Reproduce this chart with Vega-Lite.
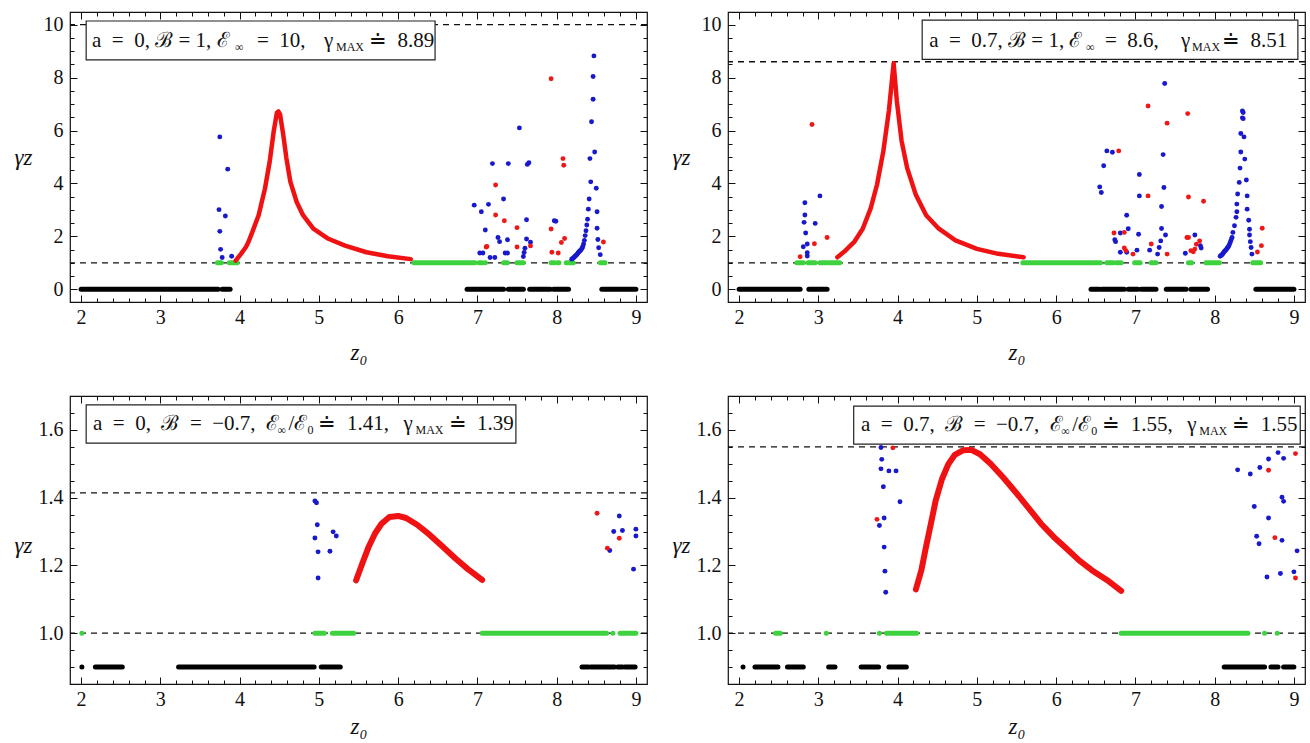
{
"$schema":"https://vega.github.io/schema/vega-lite/v6.json",
"padding":{"left":13,"top":10,"right":0,"bottom":0},
"background":"white",
"config":{"font":"Liberation Serif","view":{"stroke":"#111","strokeWidth":1.2},"axis":{"domain":false,"grid":false,"tickColor":"#111","tickWidth":1,"labelFont":"Liberation Serif","labelFontSize":20,"labelColor":"#111","titleFont":"Liberation Serif","titleFontSize":23,"titleFontWeight":"normal","titleColor":"#111","titleFontStyle":"italic"}},
"datasets":{
"refs":[{"p":"TL","y":1},{"p":"TL","y":10},{"p":"TR","y":1},{"p":"TR","y":8.6},{"p":"BL","y":1},{"p":"BL","y":1.414},{"p":"BR","y":1},{"p":"BR","y":1.55}],
"boxes":[{"p":"TL","x1":2.064,"x2":6.466,"y1":8.67,"y2":10.14},{"p":"TR","x1":4.31,"x2":9.05,"y1":8.69,"y2":10.17},{"p":"BL","x1":2.064,"x2":7.486,"y1":1.561,"y2":1.674},{"p":"BR","x1":3.446,"x2":9.08,"y1":1.558,"y2":1.670}],
"txt":[{"p":"TL","x":2.138,"y":9.38,"t":"a\u2002=\u20020, ℬ = 1, ℰ"},{"p":"TL","x":4.219,"y":9.38,"t":"=\u200210,"},{"p":"TL","x":5.065,"y":9.38,"t":"γ"},{"p":"TL","x":5.632,"y":9.38,"t":"≐\u20028.89"},
{"p":"TR","x":4.398,"y":9.38,"t":"a\u2002=\u20020.7, ℬ = 1, ℰ"},{"p":"TR","x":6.617,"y":9.38,"t":"=\u20028.6,"},{"p":"TR","x":7.576,"y":9.38,"t":"γ"},{"p":"TR","x":8.093,"y":9.38,"t":"≐\u20028.51"},
{"p":"BL","x":2.15,"y":1.617,"t":"a\u2002=\u20020,\u00a0 ℬ\u2002=\u2002−0.7,\u00a0 ℰ"},{"p":"BL","x":4.617,"y":1.617,"t":"/ℰ"},{"p":"BL","x":4.995,"y":1.617,"t":"≐\u20021.41,"},{"p":"BL","x":6.068,"y":1.617,"t":"γ"},{"p":"BL","x":6.636,"y":1.617,"t":"≐\u20021.39"},
{"p":"BR","x":3.538,"y":1.614,"t":"a\u2002=\u20020.7,\u00a0 ℬ\u2002=\u2002−0.7,\u00a0 ℰ"},{"p":"BR","x":6.204,"y":1.614,"t":"/ℰ"},{"p":"BR","x":6.582,"y":1.614,"t":"≐\u20021.55,"},{"p":"BR","x":7.655,"y":1.614,"t":"γ"},{"p":"BR","x":8.223,"y":1.614,"t":"≐\u20021.55"}],
"sub":[{"p":"TL","x":3.942,"y":9.38,"t":"∞"},{"p":"TL","x":5.216,"y":9.38,"t":"MAX"},
{"p":"TR","x":6.377,"y":9.38,"t":"∞"},{"p":"TR","x":7.715,"y":9.38,"t":"MAX"},
{"p":"BL","x":4.478,"y":1.617,"t":"∞"},{"p":"BL","x":4.857,"y":1.617,"t":"0"},{"p":"BL","x":6.219,"y":1.617,"t":"MAX"},
{"p":"BR","x":6.065,"y":1.614,"t":"∞"},{"p":"BR","x":6.444,"y":1.614,"t":"0"},{"p":"BR","x":7.806,"y":1.614,"t":"MAX"}],
"segs":[
{"p":"TL","k":"k","a":2.0,"b":3.73,"y":0},{"p":"TL","k":"k","a":3.78,"b":3.88,"y":0},{"p":"TL","k":"k","a":6.87,"b":7.33,"y":0},{"p":"TL","k":"k","a":7.39,"b":7.58,"y":0},{"p":"TL","k":"k","a":7.66,"b":7.92,"y":0},{"p":"TL","k":"k","a":7.96,"b":8.15,"y":0},{"p":"TL","k":"k","a":8.57,"b":9.0,"y":0},
{"p":"TL","k":"g","a":3.72,"b":3.77,"y":1},{"p":"TL","k":"g","a":3.87,"b":3.97,"y":1},{"p":"TL","k":"g","a":6.2,"b":6.97,"y":1},{"p":"TL","k":"g","a":7.02,"b":7.06,"y":1},{"p":"TL","k":"g","a":7.1,"b":7.1,"y":1},{"p":"TL","k":"g","a":7.33,"b":7.38,"y":1},{"p":"TL","k":"g","a":7.5,"b":7.58,"y":1},{"p":"TL","k":"g","a":7.93,"b":7.97,"y":1},{"p":"TL","k":"g","a":8.01,"b":8.03,"y":1},{"p":"TL","k":"g","a":8.12,"b":8.21,"y":1},{"p":"TL","k":"g","a":8.55,"b":8.61,"y":1},
{"p":"TR","k":"k","a":2.0,"b":2.77,"y":0},{"p":"TR","k":"k","a":2.88,"b":3.11,"y":0},{"p":"TR","k":"k","a":6.44,"b":6.55,"y":0},{"p":"TR","k":"k","a":6.58,"b":6.86,"y":0},{"p":"TR","k":"k","a":6.91,"b":7.03,"y":0},{"p":"TR","k":"k","a":7.07,"b":7.26,"y":0},{"p":"TR","k":"k","a":7.39,"b":7.64,"y":0},{"p":"TR","k":"k","a":7.70,"b":7.91,"y":0},{"p":"TR","k":"k","a":8.52,"b":9.0,"y":0},
{"p":"TR","k":"g","a":2.73,"b":2.81,"y":1},{"p":"TR","k":"g","a":2.87,"b":2.96,"y":1},{"p":"TR","k":"g","a":3.02,"b":3.10,"y":1},{"p":"TR","k":"g","a":3.13,"b":3.27,"y":1},{"p":"TR","k":"g","a":5.58,"b":6.56,"y":1},{"p":"TR","k":"g","a":6.64,"b":6.72,"y":1},{"p":"TR","k":"g","a":6.76,"b":6.82,"y":1},{"p":"TR","k":"g","a":6.99,"b":7.06,"y":1},{"p":"TR","k":"g","a":7.20,"b":7.26,"y":1},{"p":"TR","k":"g","a":7.67,"b":7.71,"y":1},{"p":"TR","k":"g","a":7.89,"b":8.06,"y":1},{"p":"TR","k":"g","a":8.48,"b":8.58,"y":1},
{"p":"BL","k":"k","a":2.01,"b":2.01,"y":0.9},{"p":"BL","k":"k","a":2.18,"b":2.52,"y":0.9},{"p":"BL","k":"k","a":3.23,"b":4.94,"y":0.9},{"p":"BL","k":"k","a":5.03,"b":5.27,"y":0.9},{"p":"BL","k":"k","a":8.32,"b":8.40,"y":0.9},{"p":"BL","k":"k","a":8.43,"b":8.73,"y":0.9},{"p":"BL","k":"k","a":8.77,"b":8.83,"y":0.9},{"p":"BL","k":"k","a":8.86,"b":8.99,"y":0.9},
{"p":"BL","k":"g","a":2.01,"b":2.01,"y":1},{"p":"BL","k":"g","a":4.95,"b":5.07,"y":1},{"p":"BL","k":"g","a":5.17,"b":5.44,"y":1},{"p":"BL","k":"g","a":7.06,"b":8.63,"y":1},{"p":"BL","k":"g","a":8.71,"b":8.71,"y":1},{"p":"BL","k":"g","a":8.80,"b":9.0,"y":1},
{"p":"BR","k":"k","a":2.05,"b":2.05,"y":0.9},{"p":"BR","k":"k","a":2.20,"b":2.49,"y":0.9},{"p":"BR","k":"k","a":2.61,"b":2.81,"y":0.9},{"p":"BR","k":"k","a":3.13,"b":3.21,"y":0.9},{"p":"BR","k":"k","a":3.54,"b":3.76,"y":0.9},{"p":"BR","k":"k","a":3.89,"b":4.11,"y":0.9},{"p":"BR","k":"k","a":8.12,"b":8.63,"y":0.9},{"p":"BR","k":"k","a":8.71,"b":8.80,"y":0.9},{"p":"BR","k":"k","a":8.87,"b":9.0,"y":0.9},
{"p":"BR","k":"g","a":2.46,"b":2.52,"y":1},{"p":"BR","k":"g","a":3.10,"b":3.10,"y":1},{"p":"BR","k":"g","a":3.77,"b":3.77,"y":1},{"p":"BR","k":"g","a":3.86,"b":4.24,"y":1},{"p":"BR","k":"g","a":6.82,"b":8.42,"y":1},{"p":"BR","k":"g","a":8.63,"b":8.63,"y":1},{"p":"BR","k":"g","a":8.79,"b":8.79,"y":1}],
"curve":[
{"p":"TL","z":3.95,"y":1.08},{"p":"TL","z":4.02,"y":1.35},{"p":"TL","z":4.08,"y":1.6},{"p":"TL","z":4.11,"y":1.78},{"p":"TL","z":4.16,"y":2.16},{"p":"TL","z":4.24,"y":2.8},{"p":"TL","z":4.32,"y":3.81},{"p":"TL","z":4.38,"y":4.83},{"p":"TL","z":4.43,"y":5.97},{"p":"TL","z":4.47,"y":6.67},{"p":"TL","z":4.49,"y":6.72},{"p":"TL","z":4.51,"y":6.61},{"p":"TL","z":4.55,"y":5.85},{"p":"TL","z":4.59,"y":4.96},{"p":"TL","z":4.64,"y":4.07},{"p":"TL","z":4.72,"y":3.3},{"p":"TL","z":4.8,"y":2.8},{"p":"TL","z":4.93,"y":2.29},{"p":"TL","z":5.12,"y":1.91},{"p":"TL","z":5.33,"y":1.65},{"p":"TL","z":5.6,"y":1.4},{"p":"TL","z":5.87,"y":1.25},{"p":"TL","z":6.16,"y":1.14},
{"p":"TR","z":3.24,"y":1.21},{"p":"TR","z":3.34,"y":1.46},{"p":"TR","z":3.45,"y":1.78},{"p":"TR","z":3.56,"y":2.29},{"p":"TR","z":3.66,"y":3.06},{"p":"TR","z":3.74,"y":3.95},{"p":"TR","z":3.82,"y":5.22},{"p":"TR","z":3.89,"y":6.75},{"p":"TR","z":3.95,"y":8.54},{"p":"TR","z":3.99,"y":7.13},{"p":"TR","z":4.05,"y":5.61},{"p":"TR","z":4.12,"y":4.59},{"p":"TR","z":4.23,"y":3.57},{"p":"TR","z":4.36,"y":2.8},{"p":"TR","z":4.52,"y":2.29},{"p":"TR","z":4.73,"y":1.85},{"p":"TR","z":5.0,"y":1.53},{"p":"TR","z":5.27,"y":1.34},{"p":"TR","z":5.59,"y":1.21},
{"p":"BL","z":5.47,"y":1.156},{"p":"BL","z":5.55,"y":1.207},{"p":"BL","z":5.63,"y":1.256},{"p":"BL","z":5.71,"y":1.295},{"p":"BL","z":5.79,"y":1.323},{"p":"BL","z":5.89,"y":1.343},{"p":"BL","z":6.0,"y":1.346},{"p":"BL","z":6.1,"y":1.34},{"p":"BL","z":6.24,"y":1.32},{"p":"BL","z":6.4,"y":1.29},{"p":"BL","z":6.56,"y":1.256},{"p":"BL","z":6.72,"y":1.221},{"p":"BL","z":6.88,"y":1.189},{"p":"BL","z":7.06,"y":1.157},
{"p":"BR","z":4.23,"y":1.129},{"p":"BR","z":4.3,"y":1.186},{"p":"BR","z":4.35,"y":1.245},{"p":"BR","z":4.42,"y":1.323},{"p":"BR","z":4.48,"y":1.391},{"p":"BR","z":4.56,"y":1.455},{"p":"BR","z":4.64,"y":1.499},{"p":"BR","z":4.72,"y":1.526},{"p":"BR","z":4.83,"y":1.54},{"p":"BR","z":4.93,"y":1.541},{"p":"BR","z":5.04,"y":1.528},{"p":"BR","z":5.17,"y":1.501},{"p":"BR","z":5.33,"y":1.46},{"p":"BR","z":5.49,"y":1.416},{"p":"BR","z":5.65,"y":1.37},{"p":"BR","z":5.81,"y":1.323},{"p":"BR","z":5.97,"y":1.284},{"p":"BR","z":6.13,"y":1.25},{"p":"BR","z":6.29,"y":1.215},{"p":"BR","z":6.45,"y":1.186},{"p":"BR","z":6.64,"y":1.157},{"p":"BR","z":6.82,"y":1.125}],
"pts":[
{"p":"TL","c":"b","z":3.75,"y":5.76},{"p":"TL","c":"b","z":3.85,"y":4.54},{"p":"TL","c":"b","z":3.74,"y":3.01},{"p":"TL","c":"b","z":3.82,"y":2.77},{"p":"TL","c":"b","z":3.75,"y":2.19},{"p":"TL","c":"b","z":3.76,"y":1.51},{"p":"TL","c":"b","z":3.78,"y":1.2},{"p":"TL","c":"b","z":3.9,"y":1.25},
{"p":"TL","c":"b","z":6.96,"y":3.18},{"p":"TL","c":"b","z":7.05,"y":2.93},{"p":"TL","c":"b","z":7.14,"y":3.21},{"p":"TL","c":"b","z":7.19,"y":4.75},{"p":"TL","c":"b","z":7.39,"y":4.75},{"p":"TL","c":"b","z":7.1,"y":2.24},{"p":"TL","c":"b","z":7.33,"y":3.41},{"p":"TL","c":"b","z":7.26,"y":1.96},{"p":"TL","c":"b","z":7.28,"y":1.8},{"p":"TL","c":"b","z":7.38,"y":1.87},{"p":"TL","c":"b","z":7.03,"y":1.37},{"p":"TL","c":"b","z":7.07,"y":1.37},{"p":"TL","c":"b","z":7.16,"y":1.2},{"p":"TL","c":"b","z":7.22,"y":1.2},{"p":"TL","c":"b","z":7.35,"y":1.37},{"p":"TL","c":"b","z":7.38,"y":1.37},{"p":"TL","c":"b","z":7.53,"y":6.1},{"p":"TL","c":"b","z":7.63,"y":4.72},{"p":"TL","c":"b","z":7.65,"y":4.78},{"p":"TL","c":"b","z":7.62,"y":2.63},{"p":"TL","c":"b","z":7.62,"y":1.9},{"p":"TL","c":"b","z":7.67,"y":1.78},{"p":"TL","c":"b","z":7.6,"y":1.55},{"p":"TL","c":"b","z":7.59,"y":1.39},{"p":"TL","c":"b","z":7.58,"y":1.24},{"p":"TL","c":"b","z":7.97,"y":2.59},{"p":"TL","c":"b","z":7.99,"y":2.57},
{"p":"TL","c":"b","z":8.19,"y":1.14},{"p":"TL","c":"b","z":8.2,"y":1.16},{"p":"TL","c":"b","z":8.21,"y":1.18},{"p":"TL","c":"b","z":8.22,"y":1.21},{"p":"TL","c":"b","z":8.23,"y":1.24},{"p":"TL","c":"b","z":8.24,"y":1.27},{"p":"TL","c":"b","z":8.25,"y":1.3},{"p":"TL","c":"b","z":8.26,"y":1.33},{"p":"TL","c":"b","z":8.27,"y":1.37},{"p":"TL","c":"b","z":8.28,"y":1.41},{"p":"TL","c":"b","z":8.29,"y":1.44},{"p":"TL","c":"b","z":8.3,"y":1.47},{"p":"TL","c":"b","z":8.31,"y":1.5},{"p":"TL","c":"b","z":8.32,"y":1.55},{"p":"TL","c":"b","z":8.33,"y":1.62},{"p":"TL","c":"b","z":8.34,"y":1.71},{"p":"TL","c":"b","z":8.35,"y":1.85},{"p":"TL","c":"b","z":8.36,"y":2.03},{"p":"TL","c":"b","z":8.37,"y":2.21},{"p":"TL","c":"b","z":8.38,"y":2.43},{"p":"TL","c":"b","z":8.39,"y":2.65},{"p":"TL","c":"b","z":8.4,"y":3.03},{"p":"TL","c":"b","z":8.41,"y":3.41},{"p":"TL","c":"b","z":8.43,"y":4.06},{"p":"TL","c":"b","z":8.42,"y":4.94},{"p":"TL","c":"b","z":8.44,"y":6.33},{"p":"TL","c":"b","z":8.46,"y":7.18},{"p":"TL","c":"b","z":8.46,"y":8.04},{"p":"TL","c":"b","z":8.47,"y":8.82},{"p":"TL","c":"b","z":8.48,"y":5.19},{"p":"TL","c":"b","z":8.5,"y":3.82},{"p":"TL","c":"b","z":8.51,"y":2.93},{"p":"TL","c":"b","z":8.51,"y":2.31},{"p":"TL","c":"b","z":8.52,"y":1.88},{"p":"TL","c":"b","z":8.53,"y":1.57},{"p":"TL","c":"b","z":8.55,"y":1.31},
{"p":"TL","c":"r","z":7.23,"y":3.94},{"p":"TL","c":"r","z":7.23,"y":2.81},{"p":"TL","c":"r","z":7.34,"y":2.59},{"p":"TL","c":"r","z":7.5,"y":2.33},{"p":"TL","c":"r","z":7.5,"y":1.6},{"p":"TL","c":"r","z":7.11,"y":1.6},{"p":"TL","c":"r","z":7.12,"y":1.62},{"p":"TL","c":"r","z":7.67,"y":1.64},{"p":"TL","c":"r","z":7.93,"y":7.96},{"p":"TL","c":"r","z":7.93,"y":2.28},{"p":"TL","c":"r","z":7.94,"y":1.4},{"p":"TL","c":"r","z":8.02,"y":1.37},{"p":"TL","c":"r","z":8.08,"y":4.94},{"p":"TL","c":"r","z":8.09,"y":4.69},{"p":"TL","c":"r","z":8.06,"y":1.77},{"p":"TL","c":"r","z":8.1,"y":1.92},{"p":"TL","c":"r","z":8.59,"y":1.79},
{"p":"TR","c":"b","z":2.83,"y":3.27},{"p":"TR","c":"b","z":3.02,"y":3.53},{"p":"TR","c":"b","z":2.83,"y":2.81},{"p":"TR","c":"b","z":2.82,"y":2.53},{"p":"TR","c":"b","z":2.96,"y":2.49},{"p":"TR","c":"b","z":2.84,"y":2.13},{"p":"TR","c":"b","z":2.81,"y":1.61},{"p":"TR","c":"b","z":2.86,"y":1.71},{"p":"TR","c":"b","z":2.86,"y":1.38},{"p":"TR","c":"b","z":2.86,"y":1.26},
{"p":"TR","c":"r","z":2.92,"y":6.23},{"p":"TR","c":"r","z":2.95,"y":1.72},{"p":"TR","c":"r","z":3.11,"y":1.96},{"p":"TR","c":"r","z":2.77,"y":1.23},
{"p":"TR","c":"b","z":6.55,"y":3.87},{"p":"TR","c":"b","z":6.57,"y":3.66},{"p":"TR","c":"b","z":6.6,"y":4.67},{"p":"TR","c":"b","z":6.64,"y":5.23},{"p":"TR","c":"b","z":6.71,"y":5.18},{"p":"TR","c":"b","z":6.74,"y":1.87},{"p":"TR","c":"b","z":6.75,"y":1.8},{"p":"TR","c":"b","z":6.81,"y":1.4},{"p":"TR","c":"b","z":6.81,"y":2.13},{"p":"TR","c":"b","z":6.89,"y":2.8},{"p":"TR","c":"b","z":6.91,"y":2.29},{"p":"TR","c":"b","z":6.89,"y":1.4},{"p":"TR","c":"b","z":7.04,"y":2.08},{"p":"TR","c":"b","z":7.02,"y":1.48},{"p":"TR","c":"b","z":7.05,"y":4.34},{"p":"TR","c":"b","z":7.05,"y":3.53},{"p":"TR","c":"b","z":7.18,"y":1.48},{"p":"TR","c":"b","z":7.28,"y":1.33},{"p":"TR","c":"b","z":7.3,"y":1.58},{"p":"TR","c":"b","z":7.32,"y":1.83},{"p":"TR","c":"b","z":7.33,"y":2.3},{"p":"TR","c":"b","z":7.33,"y":3.13},{"p":"TR","c":"b","z":7.36,"y":3.85},{"p":"TR","c":"b","z":7.35,"y":5.09},{"p":"TR","c":"b","z":7.37,"y":7.78},{"p":"TR","c":"b","z":7.38,"y":2.05},{"p":"TR","c":"b","z":7.63,"y":1.36},{"p":"TR","c":"b","z":7.75,"y":2.05},{"p":"TR","c":"b","z":7.82,"y":1.65},{"p":"TR","c":"b","z":7.83,"y":1.56},
{"p":"TR","c":"b","z":8.07,"y":1.25},{"p":"TR","c":"b","z":8.08,"y":1.28},{"p":"TR","c":"b","z":8.09,"y":1.3},{"p":"TR","c":"b","z":8.1,"y":1.33},{"p":"TR","c":"b","z":8.11,"y":1.37},{"p":"TR","c":"b","z":8.12,"y":1.42},{"p":"TR","c":"b","z":8.13,"y":1.45},{"p":"TR","c":"b","z":8.14,"y":1.48},{"p":"TR","c":"b","z":8.15,"y":1.52},{"p":"TR","c":"b","z":8.16,"y":1.56},{"p":"TR","c":"b","z":8.17,"y":1.6},{"p":"TR","c":"b","z":8.18,"y":1.65},{"p":"TR","c":"b","z":8.19,"y":1.72},{"p":"TR","c":"b","z":8.2,"y":1.8},{"p":"TR","c":"b","z":8.21,"y":1.88},{"p":"TR","c":"b","z":8.22,"y":1.96},{"p":"TR","c":"b","z":8.23,"y":2.15},{"p":"TR","c":"b","z":8.25,"y":2.4},{"p":"TR","c":"b","z":8.27,"y":2.72},{"p":"TR","c":"b","z":8.28,"y":2.93},{"p":"TR","c":"b","z":8.28,"y":3.22},{"p":"TR","c":"b","z":8.29,"y":3.6},{"p":"TR","c":"b","z":8.31,"y":4.04},{"p":"TR","c":"b","z":8.32,"y":4.58},{"p":"TR","c":"b","z":8.33,"y":5.19},{"p":"TR","c":"b","z":8.33,"y":5.89},{"p":"TR","c":"b","z":8.35,"y":6.48},{"p":"TR","c":"b","z":8.35,"y":6.74},{"p":"TR","c":"b","z":8.36,"y":6.68},{"p":"TR","c":"b","z":8.36,"y":6.45},{"p":"TR","c":"b","z":8.37,"y":5.76},{"p":"TR","c":"b","z":8.38,"y":4.92},{"p":"TR","c":"b","z":8.4,"y":4.13},{"p":"TR","c":"b","z":8.41,"y":3.53},{"p":"TR","c":"b","z":8.41,"y":3.03},{"p":"TR","c":"b","z":8.43,"y":2.61},{"p":"TR","c":"b","z":8.44,"y":2.27},{"p":"TR","c":"b","z":8.44,"y":2.05},{"p":"TR","c":"b","z":8.45,"y":1.8},{"p":"TR","c":"b","z":8.46,"y":1.58},{"p":"TR","c":"b","z":8.47,"y":1.33},
{"p":"TR","c":"r","z":6.79,"y":5.23},{"p":"TR","c":"r","z":6.73,"y":2.13},{"p":"TR","c":"r","z":6.86,"y":2.15},{"p":"TR","c":"r","z":6.86,"y":1.56},{"p":"TR","c":"r","z":6.88,"y":1.46},{"p":"TR","c":"r","z":6.97,"y":1.33},{"p":"TR","c":"r","z":7.16,"y":6.93},{"p":"TR","c":"r","z":7.16,"y":3.53},{"p":"TR","c":"r","z":7.2,"y":1.71},{"p":"TR","c":"r","z":7.4,"y":6.28},{"p":"TR","c":"r","z":7.4,"y":1.33},{"p":"TR","c":"r","z":7.66,"y":6.64},{"p":"TR","c":"r","z":7.67,"y":3.49},{"p":"TR","c":"r","z":7.65,"y":1.96},{"p":"TR","c":"r","z":7.67,"y":1.96},{"p":"TR","c":"r","z":7.7,"y":1.46},{"p":"TR","c":"r","z":7.73,"y":1.42},{"p":"TR","c":"r","z":7.75,"y":1.52},{"p":"TR","c":"r","z":7.77,"y":1.7},{"p":"TR","c":"r","z":7.81,"y":1.83},{"p":"TR","c":"r","z":7.86,"y":3.33},{"p":"TR","c":"r","z":8.54,"y":1.41},{"p":"TR","c":"r","z":8.59,"y":1.65},{"p":"TR","c":"r","z":8.6,"y":2.31},
{"p":"BL","c":"b","z":4.95,"y":1.39},{"p":"BL","c":"b","z":4.97,"y":1.385},{"p":"BL","c":"b","z":4.98,"y":1.32},{"p":"BL","c":"b","z":4.95,"y":1.281},{"p":"BL","c":"b","z":5.18,"y":1.299},{"p":"BL","c":"b","z":5.22,"y":1.287},{"p":"BL","c":"b","z":4.99,"y":1.24},{"p":"BL","c":"b","z":5.14,"y":1.242},{"p":"BL","c":"b","z":4.99,"y":1.163},
{"p":"BL","c":"b","z":8.79,"y":1.346},{"p":"BL","c":"b","z":8.72,"y":1.3},{"p":"BL","c":"b","z":8.83,"y":1.303},{"p":"BL","c":"b","z":9.0,"y":1.307},{"p":"BL","c":"b","z":9.0,"y":1.287},{"p":"BL","c":"b","z":8.97,"y":1.189},{"p":"BL","c":"b","z":8.67,"y":1.244},
{"p":"BL","c":"r","z":8.51,"y":1.354},{"p":"BL","c":"r","z":8.79,"y":1.28},{"p":"BL","c":"r","z":8.64,"y":1.251},
{"p":"BR","c":"b","z":3.79,"y":1.548},{"p":"BR","c":"b","z":3.8,"y":1.513},{"p":"BR","c":"b","z":3.79,"y":1.485},{"p":"BR","c":"b","z":3.89,"y":1.479},{"p":"BR","c":"b","z":3.98,"y":1.479},{"p":"BR","c":"b","z":3.82,"y":1.432},{"p":"BR","c":"b","z":4.03,"y":1.388},{"p":"BR","c":"b","z":3.83,"y":1.34},{"p":"BR","c":"b","z":3.77,"y":1.318},{"p":"BR","c":"b","z":3.83,"y":1.254},{"p":"BR","c":"b","z":3.84,"y":1.183},{"p":"BR","c":"b","z":3.85,"y":1.121},
{"p":"BR","c":"r","z":3.94,"y":1.547},{"p":"BR","c":"r","z":3.74,"y":1.336},
{"p":"BR","c":"b","z":8.29,"y":1.482},{"p":"BR","c":"b","z":8.45,"y":1.47},{"p":"BR","c":"b","z":8.57,"y":1.489},{"p":"BR","c":"b","z":8.68,"y":1.514},{"p":"BR","c":"b","z":8.8,"y":1.533},{"p":"BR","c":"b","z":8.87,"y":1.516},{"p":"BR","c":"b","z":8.5,"y":1.374},{"p":"BR","c":"b","z":8.68,"y":1.34},{"p":"BR","c":"b","z":8.85,"y":1.401},{"p":"BR","c":"b","z":8.87,"y":1.389},{"p":"BR","c":"b","z":8.53,"y":1.286},{"p":"BR","c":"b","z":8.56,"y":1.264},{"p":"BR","c":"b","z":8.85,"y":1.274},{"p":"BR","c":"b","z":8.66,"y":1.166},{"p":"BR","c":"b","z":8.83,"y":1.176},{"p":"BR","c":"b","z":9.0,"y":1.181},{"p":"BR","c":"b","z":9.04,"y":1.243},
{"p":"BR","c":"r","z":8.68,"y":1.481},{"p":"BR","c":"r","z":8.76,"y":1.282},{"p":"BR","c":"r","z":9.02,"y":1.53},{"p":"BR","c":"r","z":9.02,"y":1.163}]
},
"columns":2,
"spacing":{"row":94,"column":81},
"bounds":"flush",
"concat":[
{"width":577,"height":290,
"layer":[
{"data":{"name":"refs"},"transform":[{"filter":"datum.p==='TL'"}],"mark":{"type":"rule","strokeDash":[6,5],"color":"#111","strokeWidth":1.3},"encoding":{"y":{"field":"y","type":"quantitative","scale":{"domain":[-0.48,10.48],"nice":false,"zero":false},"axis":null}}},
{"data":{"name":"segs"},"transform":[{"filter":"datum.p==='TL'"}],"mark":{"type":"rule","strokeWidth":5,"strokeCap":"round"},"encoding":{"x":{"field":"a","type":"quantitative","scale":{"domain":[1.86,9.14],"nice":false,"zero":false},"axis":{"orient":"bottom","values":[2,3,4,5,6,7,8,9],"format":"d","tickSize":-7,"labelPadding":12,"labelFont":"Liberation Serif","title":"z₀","titleFont":"Liberation Serif","titleY":50,"titleBaseline":"middle"}},"x2":{"field":"b"},"y":{"field":"y","type":"quantitative","axis":{"orient":"left","values":[0,2,4,6,8,10],"format":"d","tickSize":-7,"labelPadding":14,"labelFont":"Liberation Serif","title":"γz","titleFont":"Liberation Serif","titleAngle":0,"titleX":-47,"titleY":145,"titleAlign":"center","titleBaseline":"middle"}},"color":{"field":"k","type":"nominal","scale":{"domain":["k","g"],"range":["#000000","#3ed23e"]},"legend":null}}},
{"data":{"name":"curve"},"transform":[{"filter":"datum.p==='TL'"}],"mark":{"type":"line","color":"#f01212","strokeWidth":4.5,"strokeCap":"round","strokeJoin":"round"},"encoding":{"x":{"field":"z","type":"quantitative","axis":{"orient":"bottom","values":[2.2,2.4,2.6,2.8,3.2,3.4,3.6,3.8,4.2,4.4,4.6,4.8,5.2,5.4,5.6,5.8,6.2,6.4,6.6,6.8,7.2,7.4,7.6,7.8,8.2,8.4,8.6,8.8],"labels":false,"tickSize":-4,"title":null}},"y":{"field":"y","type":"quantitative","axis":{"orient":"left","values":[0.5,1,1.5,2.5,3,3.5,4.5,5,5.5,6.5,7,7.5,8.5,9,9.5],"labels":false,"tickSize":-4,"title":null}}}},
{"data":{"name":"pts"},"transform":[{"filter":"datum.p==='TL'"}],"mark":{"type":"circle","size":24,"opacity":1},"encoding":{"x":{"field":"z","type":"quantitative","axis":{"orient":"top","values":[2,3,4,5,6,7,8,9],"labels":false,"tickSize":-7,"title":null}},"y":{"field":"y","type":"quantitative","axis":{"orient":"right","values":[0,2,4,6,8,10],"labels":false,"tickSize":-7,"title":null}},"color":{"field":"c","type":"nominal","scale":{"domain":["b","r"],"range":["#1818cc","#ee1818"]},"legend":null}}},
{"data":{"name":"boxes"},"transform":[{"filter":"datum.p==='TL'"}],"mark":{"type":"rect","fill":"white","stroke":"#222","strokeWidth":1.2},"encoding":{"x":{"field":"x1","type":"quantitative","axis":{"orient":"top","values":[2.2,2.4,2.6,2.8,3.2,3.4,3.6,3.8,4.2,4.4,4.6,4.8,5.2,5.4,5.6,5.8,6.2,6.4,6.6,6.8,7.2,7.4,7.6,7.8,8.2,8.4,8.6,8.8],"labels":false,"tickSize":-4,"title":null}},"x2":{"field":"x2"},"y":{"field":"y1","type":"quantitative","axis":{"orient":"right","values":[0.5,1,1.5,2.5,3,3.5,4.5,5,5.5,6.5,7,7.5,8.5,9,9.5],"labels":false,"tickSize":-4,"title":null}},"y2":{"field":"y2"}}},
{"data":{"name":"txt"},"transform":[{"filter":"datum.p==='TL'"}],"mark":{"type":"text","font":"Liberation Serif","fontSize":21,"align":"left","baseline":"middle","color":"#111"},"encoding":{"x":{"field":"x","type":"quantitative","axis":null},"y":{"field":"y","type":"quantitative","axis":null},"text":{"field":"t"}}},
{"data":{"name":"sub"},"transform":[{"filter":"datum.p==='TL'"}],"mark":{"type":"text","font":"Liberation Serif","fontSize":12,"align":"left","baseline":"middle","dy":6,"color":"#111"},"encoding":{"x":{"field":"x","type":"quantitative","axis":null},"y":{"field":"y","type":"quantitative","axis":null},"text":{"field":"t"}}}
],
"resolve":{"axis":{"x":"independent","y":"independent"},"scale":{"color":"independent"}}},
{"width":577,"height":290,
"layer":[
{"data":{"name":"refs"},"transform":[{"filter":"datum.p==='TR'"}],"mark":{"type":"rule","strokeDash":[6,5],"color":"#111","strokeWidth":1.3},"encoding":{"y":{"field":"y","type":"quantitative","scale":{"domain":[-0.48,10.48],"nice":false,"zero":false},"axis":null}}},
{"data":{"name":"segs"},"transform":[{"filter":"datum.p==='TR'"}],"mark":{"type":"rule","strokeWidth":5,"strokeCap":"round"},"encoding":{"x":{"field":"a","type":"quantitative","scale":{"domain":[1.86,9.14],"nice":false,"zero":false},"axis":{"orient":"bottom","values":[2,3,4,5,6,7,8,9],"format":"d","tickSize":-7,"labelPadding":12,"labelFont":"Liberation Serif","title":"z₀","titleFont":"Liberation Serif","titleY":50,"titleBaseline":"middle"}},"x2":{"field":"b"},"y":{"field":"y","type":"quantitative","axis":{"orient":"left","values":[0,2,4,6,8,10],"format":"d","tickSize":-7,"labelPadding":14,"labelFont":"Liberation Serif","title":"γz","titleFont":"Liberation Serif","titleAngle":0,"titleX":-47,"titleY":145,"titleAlign":"center","titleBaseline":"middle"}},"color":{"field":"k","type":"nominal","scale":{"domain":["k","g"],"range":["#000000","#3ed23e"]},"legend":null}}},
{"data":{"name":"curve"},"transform":[{"filter":"datum.p==='TR'"}],"mark":{"type":"line","color":"#f01212","strokeWidth":4.5,"strokeCap":"round","strokeJoin":"round"},"encoding":{"x":{"field":"z","type":"quantitative","axis":{"orient":"bottom","values":[2.2,2.4,2.6,2.8,3.2,3.4,3.6,3.8,4.2,4.4,4.6,4.8,5.2,5.4,5.6,5.8,6.2,6.4,6.6,6.8,7.2,7.4,7.6,7.8,8.2,8.4,8.6,8.8],"labels":false,"tickSize":-4,"title":null}},"y":{"field":"y","type":"quantitative","axis":{"orient":"left","values":[0.5,1,1.5,2.5,3,3.5,4.5,5,5.5,6.5,7,7.5,8.5,9,9.5],"labels":false,"tickSize":-4,"title":null}}}},
{"data":{"name":"pts"},"transform":[{"filter":"datum.p==='TR'"}],"mark":{"type":"circle","size":24,"opacity":1},"encoding":{"x":{"field":"z","type":"quantitative","axis":{"orient":"top","values":[2,3,4,5,6,7,8,9],"labels":false,"tickSize":-7,"title":null}},"y":{"field":"y","type":"quantitative","axis":{"orient":"right","values":[0,2,4,6,8,10],"labels":false,"tickSize":-7,"title":null}},"color":{"field":"c","type":"nominal","scale":{"domain":["b","r"],"range":["#1818cc","#ee1818"]},"legend":null}}},
{"data":{"name":"boxes"},"transform":[{"filter":"datum.p==='TR'"}],"mark":{"type":"rect","fill":"white","stroke":"#222","strokeWidth":1.2},"encoding":{"x":{"field":"x1","type":"quantitative","axis":{"orient":"top","values":[2.2,2.4,2.6,2.8,3.2,3.4,3.6,3.8,4.2,4.4,4.6,4.8,5.2,5.4,5.6,5.8,6.2,6.4,6.6,6.8,7.2,7.4,7.6,7.8,8.2,8.4,8.6,8.8],"labels":false,"tickSize":-4,"title":null}},"x2":{"field":"x2"},"y":{"field":"y1","type":"quantitative","axis":{"orient":"right","values":[0.5,1,1.5,2.5,3,3.5,4.5,5,5.5,6.5,7,7.5,8.5,9,9.5],"labels":false,"tickSize":-4,"title":null}},"y2":{"field":"y2"}}},
{"data":{"name":"txt"},"transform":[{"filter":"datum.p==='TR'"}],"mark":{"type":"text","font":"Liberation Serif","fontSize":21,"align":"left","baseline":"middle","color":"#111"},"encoding":{"x":{"field":"x","type":"quantitative","axis":null},"y":{"field":"y","type":"quantitative","axis":null},"text":{"field":"t"}}},
{"data":{"name":"sub"},"transform":[{"filter":"datum.p==='TR'"}],"mark":{"type":"text","font":"Liberation Serif","fontSize":12,"align":"left","baseline":"middle","dy":6,"color":"#111"},"encoding":{"x":{"field":"x","type":"quantitative","axis":null},"y":{"field":"y","type":"quantitative","axis":null},"text":{"field":"t"}}}
],
"resolve":{"axis":{"x":"independent","y":"independent"},"scale":{"color":"independent"}}},
{"width":577,"height":288,
"layer":[
{"data":{"name":"refs"},"transform":[{"filter":"datum.p==='BL'"}],"mark":{"type":"rule","strokeDash":[6,5],"color":"#111","strokeWidth":1.3},"encoding":{"y":{"field":"y","type":"quantitative","scale":{"domain":[0.85,1.7],"nice":false,"zero":false},"axis":null}}},
{"data":{"name":"segs"},"transform":[{"filter":"datum.p==='BL'"}],"mark":{"type":"rule","strokeWidth":5,"strokeCap":"round"},"encoding":{"x":{"field":"a","type":"quantitative","scale":{"domain":[1.86,9.14],"nice":false,"zero":false},"axis":{"orient":"bottom","values":[2,3,4,5,6,7,8,9],"format":"d","tickSize":-7,"labelPadding":12,"labelFont":"Liberation Serif","title":"z₀","titleFont":"Liberation Serif","titleY":42,"titleBaseline":"middle"}},"x2":{"field":"b"},"y":{"field":"y","type":"quantitative","axis":{"orient":"left","values":[1.0,1.2,1.4,1.6],"format":".1f","tickSize":-7,"labelPadding":14,"labelFont":"Liberation Serif","title":"γz","titleFont":"Liberation Serif","titleAngle":0,"titleX":-47,"titleY":149,"titleAlign":"center","titleBaseline":"middle"}},"color":{"field":"k","type":"nominal","scale":{"domain":["k","g"],"range":["#000000","#3ed23e"]},"legend":null}}},
{"data":{"name":"curve"},"transform":[{"filter":"datum.p==='BL'"}],"mark":{"type":"line","color":"#f01212","strokeWidth":6,"strokeCap":"round","strokeJoin":"round"},"encoding":{"x":{"field":"z","type":"quantitative","axis":{"orient":"bottom","values":[2.2,2.4,2.6,2.8,3.2,3.4,3.6,3.8,4.2,4.4,4.6,4.8,5.2,5.4,5.6,5.8,6.2,6.4,6.6,6.8,7.2,7.4,7.6,7.8,8.2,8.4,8.6,8.8],"labels":false,"tickSize":-4,"title":null}},"y":{"field":"y","type":"quantitative","axis":{"orient":"left","values":[0.9,0.95,1.05,1.1,1.15,1.25,1.3,1.35,1.45,1.5,1.55,1.65],"labels":false,"tickSize":-4,"title":null}}}},
{"data":{"name":"pts"},"transform":[{"filter":"datum.p==='BL'"}],"mark":{"type":"circle","size":24,"opacity":1},"encoding":{"x":{"field":"z","type":"quantitative","axis":{"orient":"top","values":[2,3,4,5,6,7,8,9],"labels":false,"tickSize":-7,"title":null}},"y":{"field":"y","type":"quantitative","axis":{"orient":"right","values":[1.0,1.2,1.4,1.6],"labels":false,"tickSize":-7,"title":null}},"color":{"field":"c","type":"nominal","scale":{"domain":["b","r"],"range":["#1818cc","#ee1818"]},"legend":null}}},
{"data":{"name":"boxes"},"transform":[{"filter":"datum.p==='BL'"}],"mark":{"type":"rect","fill":"white","stroke":"#222","strokeWidth":1.2},"encoding":{"x":{"field":"x1","type":"quantitative","axis":{"orient":"top","values":[2.2,2.4,2.6,2.8,3.2,3.4,3.6,3.8,4.2,4.4,4.6,4.8,5.2,5.4,5.6,5.8,6.2,6.4,6.6,6.8,7.2,7.4,7.6,7.8,8.2,8.4,8.6,8.8],"labels":false,"tickSize":-4,"title":null}},"x2":{"field":"x2"},"y":{"field":"y1","type":"quantitative","axis":{"orient":"right","values":[0.9,0.95,1.05,1.1,1.15,1.25,1.3,1.35,1.45,1.5,1.55,1.65],"labels":false,"tickSize":-4,"title":null}},"y2":{"field":"y2"}}},
{"data":{"name":"txt"},"transform":[{"filter":"datum.p==='BL'"}],"mark":{"type":"text","font":"Liberation Serif","fontSize":21,"align":"left","baseline":"middle","color":"#111"},"encoding":{"x":{"field":"x","type":"quantitative","axis":null},"y":{"field":"y","type":"quantitative","axis":null},"text":{"field":"t"}}},
{"data":{"name":"sub"},"transform":[{"filter":"datum.p==='BL'"}],"mark":{"type":"text","font":"Liberation Serif","fontSize":12,"align":"left","baseline":"middle","dy":6,"color":"#111"},"encoding":{"x":{"field":"x","type":"quantitative","axis":null},"y":{"field":"y","type":"quantitative","axis":null},"text":{"field":"t"}}}
],
"resolve":{"axis":{"x":"independent","y":"independent"},"scale":{"color":"independent"}}},
{"width":577,"height":288,
"layer":[
{"data":{"name":"refs"},"transform":[{"filter":"datum.p==='BR'"}],"mark":{"type":"rule","strokeDash":[6,5],"color":"#111","strokeWidth":1.3},"encoding":{"y":{"field":"y","type":"quantitative","scale":{"domain":[0.85,1.7],"nice":false,"zero":false},"axis":null}}},
{"data":{"name":"segs"},"transform":[{"filter":"datum.p==='BR'"}],"mark":{"type":"rule","strokeWidth":5,"strokeCap":"round"},"encoding":{"x":{"field":"a","type":"quantitative","scale":{"domain":[1.86,9.14],"nice":false,"zero":false},"axis":{"orient":"bottom","values":[2,3,4,5,6,7,8,9],"format":"d","tickSize":-7,"labelPadding":12,"labelFont":"Liberation Serif","title":"z₀","titleFont":"Liberation Serif","titleY":42,"titleBaseline":"middle"}},"x2":{"field":"b"},"y":{"field":"y","type":"quantitative","axis":{"orient":"left","values":[1.0,1.2,1.4,1.6],"format":".1f","tickSize":-7,"labelPadding":14,"labelFont":"Liberation Serif","title":"γz","titleFont":"Liberation Serif","titleAngle":0,"titleX":-47,"titleY":149,"titleAlign":"center","titleBaseline":"middle"}},"color":{"field":"k","type":"nominal","scale":{"domain":["k","g"],"range":["#000000","#3ed23e"]},"legend":null}}},
{"data":{"name":"curve"},"transform":[{"filter":"datum.p==='BR'"}],"mark":{"type":"line","color":"#f01212","strokeWidth":6,"strokeCap":"round","strokeJoin":"round"},"encoding":{"x":{"field":"z","type":"quantitative","axis":{"orient":"bottom","values":[2.2,2.4,2.6,2.8,3.2,3.4,3.6,3.8,4.2,4.4,4.6,4.8,5.2,5.4,5.6,5.8,6.2,6.4,6.6,6.8,7.2,7.4,7.6,7.8,8.2,8.4,8.6,8.8],"labels":false,"tickSize":-4,"title":null}},"y":{"field":"y","type":"quantitative","axis":{"orient":"left","values":[0.9,0.95,1.05,1.1,1.15,1.25,1.3,1.35,1.45,1.5,1.55,1.65],"labels":false,"tickSize":-4,"title":null}}}},
{"data":{"name":"pts"},"transform":[{"filter":"datum.p==='BR'"}],"mark":{"type":"circle","size":24,"opacity":1},"encoding":{"x":{"field":"z","type":"quantitative","axis":{"orient":"top","values":[2,3,4,5,6,7,8,9],"labels":false,"tickSize":-7,"title":null}},"y":{"field":"y","type":"quantitative","axis":{"orient":"right","values":[1.0,1.2,1.4,1.6],"labels":false,"tickSize":-7,"title":null}},"color":{"field":"c","type":"nominal","scale":{"domain":["b","r"],"range":["#1818cc","#ee1818"]},"legend":null}}},
{"data":{"name":"boxes"},"transform":[{"filter":"datum.p==='BR'"}],"mark":{"type":"rect","fill":"white","stroke":"#222","strokeWidth":1.2},"encoding":{"x":{"field":"x1","type":"quantitative","axis":{"orient":"top","values":[2.2,2.4,2.6,2.8,3.2,3.4,3.6,3.8,4.2,4.4,4.6,4.8,5.2,5.4,5.6,5.8,6.2,6.4,6.6,6.8,7.2,7.4,7.6,7.8,8.2,8.4,8.6,8.8],"labels":false,"tickSize":-4,"title":null}},"x2":{"field":"x2"},"y":{"field":"y1","type":"quantitative","axis":{"orient":"right","values":[0.9,0.95,1.05,1.1,1.15,1.25,1.3,1.35,1.45,1.5,1.55,1.65],"labels":false,"tickSize":-4,"title":null}},"y2":{"field":"y2"}}},
{"data":{"name":"txt"},"transform":[{"filter":"datum.p==='BR'"}],"mark":{"type":"text","font":"Liberation Serif","fontSize":21,"align":"left","baseline":"middle","color":"#111"},"encoding":{"x":{"field":"x","type":"quantitative","axis":null},"y":{"field":"y","type":"quantitative","axis":null},"text":{"field":"t"}}},
{"data":{"name":"sub"},"transform":[{"filter":"datum.p==='BR'"}],"mark":{"type":"text","font":"Liberation Serif","fontSize":12,"align":"left","baseline":"middle","dy":6,"color":"#111"},"encoding":{"x":{"field":"x","type":"quantitative","axis":null},"y":{"field":"y","type":"quantitative","axis":null},"text":{"field":"t"}}}
],
"resolve":{"axis":{"x":"independent","y":"independent"},"scale":{"color":"independent"}}}
]
}
